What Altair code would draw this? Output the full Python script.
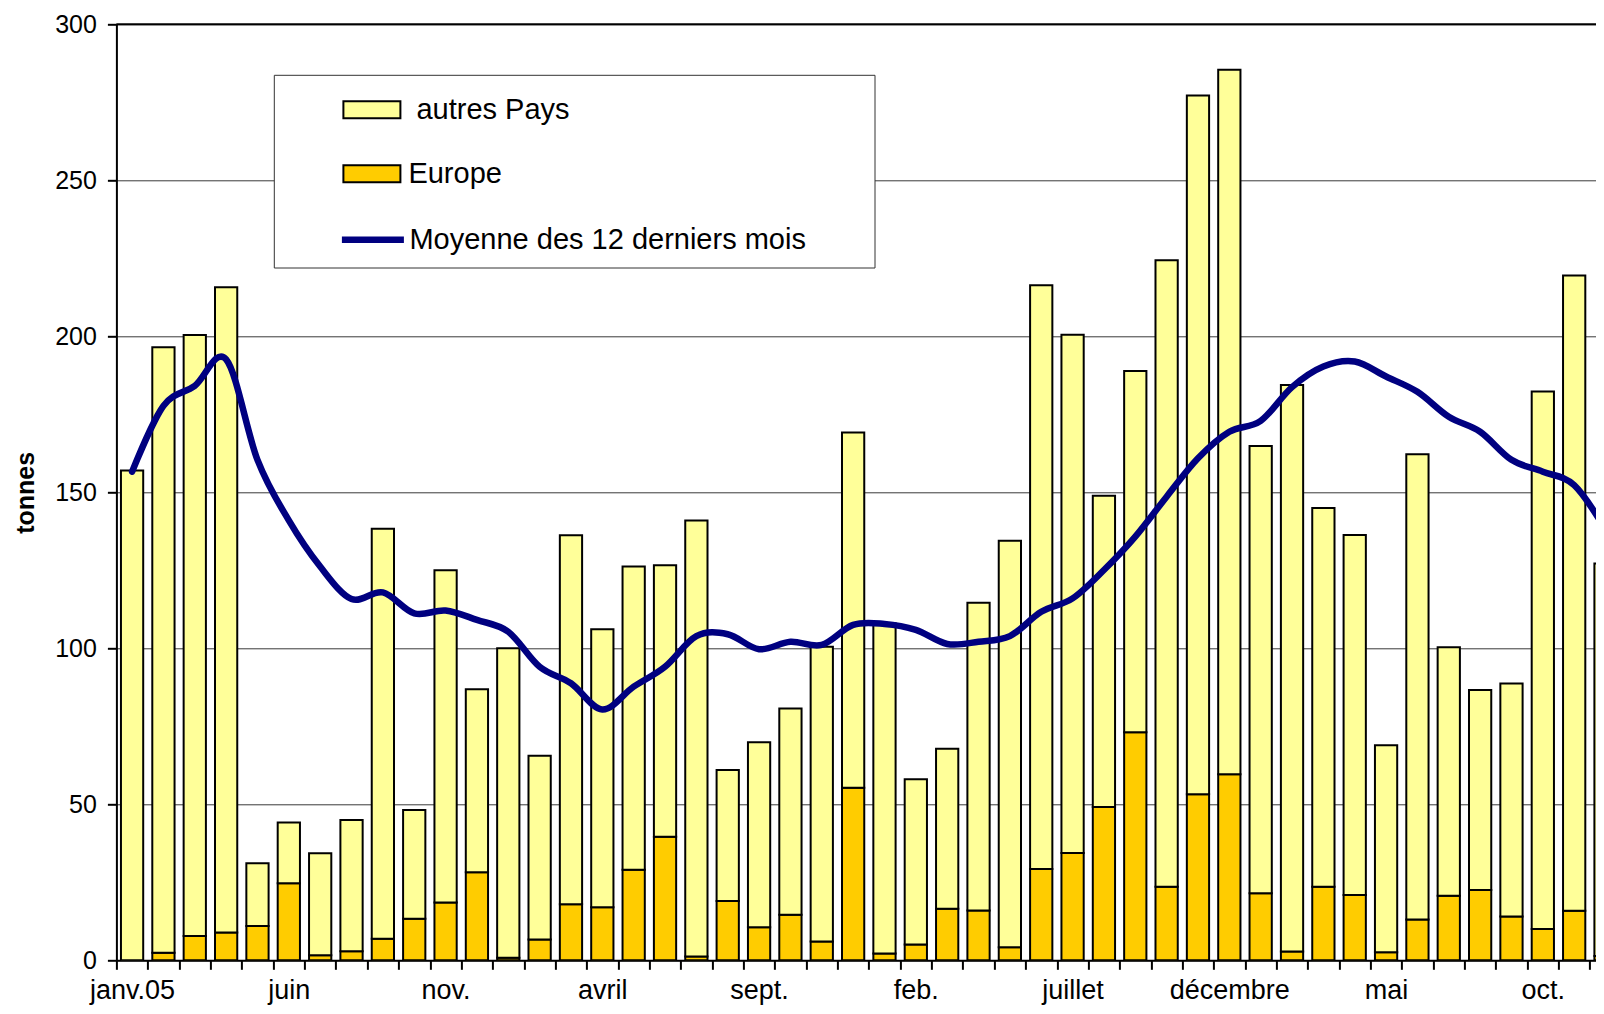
import altair as alt
import pandas as pd

# ---- data (tonnes, monthly from janv. 2005) ----
month_index = list(range(48))
europe = [0.0, 2.4, 7.8, 8.9, 11.0, 24.7, 1.6, 2.9, 6.9, 13.3, 18.5, 28.2,
          0.8, 6.7, 18.0, 17.0, 29.0, 39.6, 1.2, 19.0, 10.6, 14.6, 6.0, 55.3,
          2.2, 5.1, 16.5, 16.0, 4.2, 29.3, 34.4, 49.1, 73.1, 23.6, 53.2, 59.6,
          21.5, 2.8, 23.6, 20.9, 2.6, 13.1, 20.7, 22.5, 14.0, 10.0, 15.9, 1.4]
autres = [157.0, 194.1, 192.6, 206.8, 20.1, 19.5, 32.7, 42.1, 131.4, 34.9, 106.5, 58.7,
          99.2, 58.9, 118.2, 89.1, 97.2, 87.0, 139.8, 42.0, 59.3, 66.1, 94.5, 113.9,
          105.8, 52.9, 51.3, 98.6, 130.3, 187.1, 166.1, 99.8, 115.8, 200.8, 224.0, 225.8,
          143.3, 181.6, 121.4, 115.4, 66.3, 149.1, 79.6, 64.1, 74.7, 172.3, 203.6, 125.8]
moyenne = [156.6, 177.7, 184.1, 192.6, 160.4, 141.0, 126.2, 115.8, 117.9, 111.2, 112.1, 109.1,
           105.3, 94.1, 88.8, 80.4, 87.7, 94.1, 103.9, 104.5, 99.7, 102.1, 101.1, 107.5,
           107.8, 105.9, 101.4, 102.1, 103.9, 111.7, 116.0, 125.1, 135.8, 148.6, 160.9, 169.4,
           172.9, 183.7, 190.3, 191.9, 187.1, 182.2, 174.2, 169.4, 160.4, 156.6, 152.3, 138.0]
tick_labels = {0: "janv.05", 5: "juin", 10: "nov.", 15: "avril", 20: "sept.",
               25: "feb.", 30: "juillet", 35: "décembre", 40: "mai", 45: "oct."}
bar_series = ["autres Pays", "Europe"]
bar_colors = ["#FFFF99", "#FFCC00"]
line_name = "Moyenne des 12 derniers mois"
line_color = "#000080"
y_ticks = [0, 50, 100, 150, 200, 250, 300]

rows = []
for i in month_index:
    rows.append({"idx": i, "serie": "Europe", "val": europe[i], "ord": 0})
    rows.append({"idx": i, "serie": "autres Pays", "val": autres[i], "ord": 1})
bars_df = pd.DataFrame(rows)
line_df = pd.DataFrame({"idx": month_index, "val": moyenne, "serie": line_name})

FONT = "Liberation Sans"
label_list = [tick_labels.get(k, "") for k in month_index]
label_js = "[" + ",".join("'" + s + "'" for s in label_list) + "]"

PLOT_W = 1479.6
xscale = alt.Scale(domain=[-0.5, -0.5 + PLOT_W / 31.35], nice=False, zero=False)
yscale = alt.Scale(domain=[0, 300], nice=False)

xaxis = alt.Axis(
    values=[k - 0.5 for k in month_index],
    labelExpr=label_js + "[round(datum.value + 0.5)]",
    labelOffset=15.7, tickSize=9, tickWidth=2, tickColor="black",
    domainColor="black", domainWidth=2, labelFontSize=27, labelFont=FONT,
    labelColor="black", labelAlign="center", labelBaseline="alphabetic",
    labelPadding=29.5, labelOverlap=False, labelBound=False, labelFlush=False,
    grid=False, title=None,
)
yaxis = alt.Axis(
    values=y_ticks, tickSize=9, tickWidth=2, tickColor="black",
    domainColor="black", domainWidth=2, labelFontSize=25, labelFont=FONT,
    labelColor="black", labelPadding=11, grid=True, gridColor="#3a3a3a",
    gridWidth=1, title="tonnes", titleFont=FONT, titleFontSize=25,
    titleFontWeight="bold", titleColor="black", titleX=-90.8, titleY=468,
    titleAngle=270, titleAlign="center", titleBaseline="middle",
)

legend_bars = alt.Legend(
    orient="none", legendX=226.0, legendY=56.0, title=None,
    symbolType="M-1,-0.298L1,-0.298L1,0.298L-1,0.298Z", symbolSize=3249,
    symbolStrokeColor="black", symbolStrokeWidth=2, symbolOpacity=1,
    labelFontSize=29, labelFont=FONT, labelColor="black", labelOffset=7,
    rowPadding=19, padding=0, labelLimit=700,
    labelExpr="datum.label == 'autres Pays' ? '\u200b\u00a0autres Pays' : datum.label",
)
legend_line = alt.Legend(
    orient="none", legendX=222.0, legendY=181.0, title=None,
    symbolType="stroke", symbolSize=3844, symbolStrokeWidth=6.5,
    labelFontSize=29, labelFont=FONT, labelColor="black", labelOffset=2,
    padding=0, labelLimit=700,
)

box = alt.Chart(pd.DataFrame({"a": [0]})).mark_rect(
    fill="white", stroke="#333333", strokeWidth=1
).encode(x=alt.value(157.9), x2=alt.value(758.6), y=alt.value(51.0), y2=alt.value(243.7))

bars = alt.Chart(bars_df).transform_stack(
    stack="val", as_=["y0", "y1"], groupby=["idx"],
    sort=[alt.SortField("ord", order="ascending")], offset="zero",
).transform_calculate(
    x0="datum.idx - 0.355", x1="datum.idx + 0.355"
).mark_rect(stroke="black", strokeWidth=2, clip=True).encode(
    x=alt.X("x0:Q", scale=xscale, axis=xaxis, title=None),
    x2="x1:Q",
    y=alt.Y("y0:Q", scale=yscale, axis=yaxis),
    y2="y1:Q",
    fill=alt.Fill("serie:N", scale=alt.Scale(domain=bar_series, range=bar_colors),
                  legend=legend_bars),
)

line = alt.Chart(line_df).mark_line(
    interpolate="cardinal", strokeWidth=6.5, strokeCap="round", strokeJoin="round", clip=True
).encode(
    x=alt.X("idx:Q", scale=xscale, axis=xaxis, title=None),
    y=alt.Y("val:Q", scale=yscale, axis=yaxis),
    stroke=alt.Stroke("serie:N", scale=alt.Scale(domain=[line_name], range=[line_color]),
                      legend=legend_line),
)

top_rule = alt.Chart(pd.DataFrame({"v": [y_ticks[-1]]})).mark_rule(
    color="black", strokeWidth=2
).encode(y=alt.Y("v:Q", scale=yscale, axis=yaxis))

chart = alt.layer(box, bars, line, top_rule).properties(
    width=PLOT_W, height=936,
    autosize=alt.AutoSizeParams(type="none"),
    padding={"left": 108.4, "top": 16.3, "right": 0, "bottom": 44.7},
    background="white",
).configure_view(stroke=None)

chart.save("out.html", embed_options={"renderer": "svg", "actions": False})
